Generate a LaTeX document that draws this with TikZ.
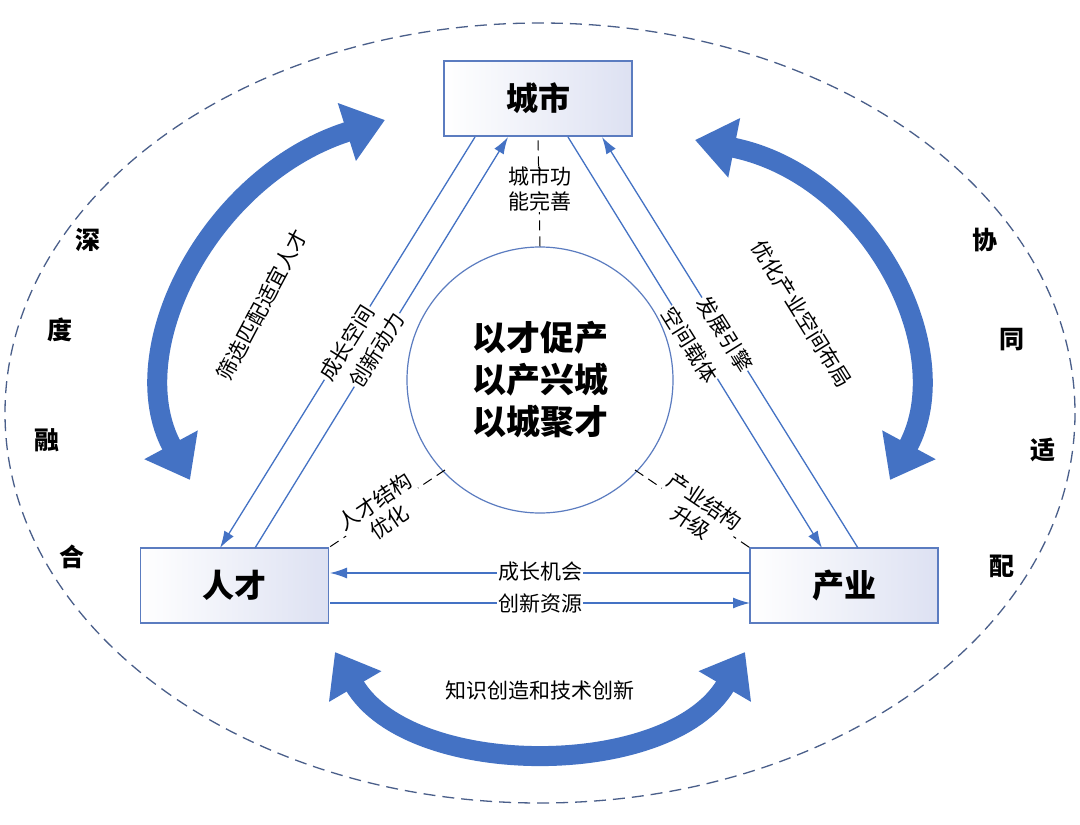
\documentclass[tikz,border=0pt]{standalone}
\usepackage{fontspec}
\setmainfont{Noto Sans CJK SC}
\usetikzlibrary{arrows.meta,shapes.geometric}
\definecolor{ab}{HTML}{4472C4}
\definecolor{bd}{HTML}{5B7CC0}
\definecolor{dsh}{HTML}{4A5F8A}
\definecolor{lav}{HTML}{DDE1F2}
\begin{document}
\begin{tikzpicture}[x=1pt,y=-1pt,
  box/.style={draw=bd,line width=1.2pt,left color=white,right color=lav,minimum width=188pt,minimum height=75pt,font=\fontsize{32}{34}\selectfont\bfseries},
  conn/.style={draw=ab,line width=1.3pt,-{Latex[length=17pt,width=11pt]}},
  lbl/.style={font=\fontsize{21}{25}\selectfont,fill=white,inner sep=1pt,align=center},
  dl/.style={draw=black,line width=1pt,dash pattern=on 10pt off 6pt},
  big/.style={draw=ab,line width=20pt,{Triangle[length=40pt,width=58pt]}-{Triangle[length=40pt,width=58pt]}},
  side/.style={font=\fontsize{25}{27}\selectfont\bfseries}]
\useasboundingbox (0,0) rectangle (1080,825);
\fill[white] (0,0) rectangle (1080,825);
\draw[dsh,line width=1.3pt,dash pattern=on 12pt off 7pt] (540,413) ellipse [x radius=535,y radius=390];
% boxes
\node[box] (city) at (538,98.5) {城市};
\node[box] (tal) at (234.5,585.5) {人才};
\node[box] (ind) at (844,585.5) {产业};
\node[circle,draw=bd,line width=1.2pt,fill=white,minimum size=266pt,align=center,font=\fontsize{34}{42}\selectfont\bfseries] (core) at (540,380) {以才促产\\以产兴城\\以城聚才};
% diagonal connectors
\coordinate (c1) at (475,137); \coordinate (t1) at (220,548);
\coordinate (c2) at (508,137); \coordinate (t2) at (255,548);
\coordinate (c3) at (568,137); \coordinate (i3) at (822,548);
\coordinate (c4) at (602,137); \coordinate (i4) at (858,548);
\draw[conn] (c1) -- (t1);
\draw[conn] (t2) -- (c2);
\draw[conn] (c3) -- (i3);
\draw[conn] (i4) -- (c4);
\node[lbl,rotate=58] at (347,343) {成长空间};
\node[lbl,rotate=58] at (377,350) {创新动力};
\node[lbl,rotate=-58] at (725,334) {发展引擎};
\node[lbl,rotate=-58] at (690,345) {空间载体};
% horizontal
\coordinate (ih1) at (750,573); \coordinate (th1) at (330,573);
\coordinate (th2) at (330,603); \coordinate (ih2) at (750,603);
\draw[conn] (ih1) -- (th1);
\draw[conn] (th2) -- (ih2);
\node[lbl,inner ysep=0pt] at (540,572) {成长机会};
\node[lbl,inner ysep=0pt] at (540,603) {创新资源};
% dashed links
\draw[dl] (core.north) -- (city.south);
\node[lbl] at (540,189) {城市功\\能完善};
\coordinate (cl) at (445,470); \coordinate (cr) at (635,470);
\draw[dl] (cl) -- (tal.north east);
\draw[dl] (cr) -- (ind.north west);
\node[lbl,rotate=34] at (382,512) {人才结构\\优化};
\node[lbl,rotate=-34] at (698,512) {产业结构\\升级};
% big arrows
\draw[big] (190,480) .. controls (120,350) and (210,175) .. (385,120);
\draw[big] (890,480) .. controls (960,350) and (870,175) .. (695,140);
\draw[big] (335,652) .. controls (410,780) and (670,780) .. (745,652);
\node[font=\fontsize{21}{24}\selectfont,rotate=62] at (262,305) {筛选匹配适宜人才};
\node[font=\fontsize{21}{24}\selectfont,rotate=-58] at (802,314) {优化产业空间布局};
\node[font=\fontsize{21}{24}\selectfont] at (540,690) {知识创造和技术创新};
% side labels
\node[side] at (88,240) {深};
\node[side] at (60,330) {度};
\node[side] at (47,440) {融};
\node[side] at (72,557) {合};
\node[side] at (985,240) {协};
\node[side] at (1012,340) {同};
\node[side] at (1043,450) {适};
\node[side] at (1002,566) {配};
\end{tikzpicture}
\end{document}
